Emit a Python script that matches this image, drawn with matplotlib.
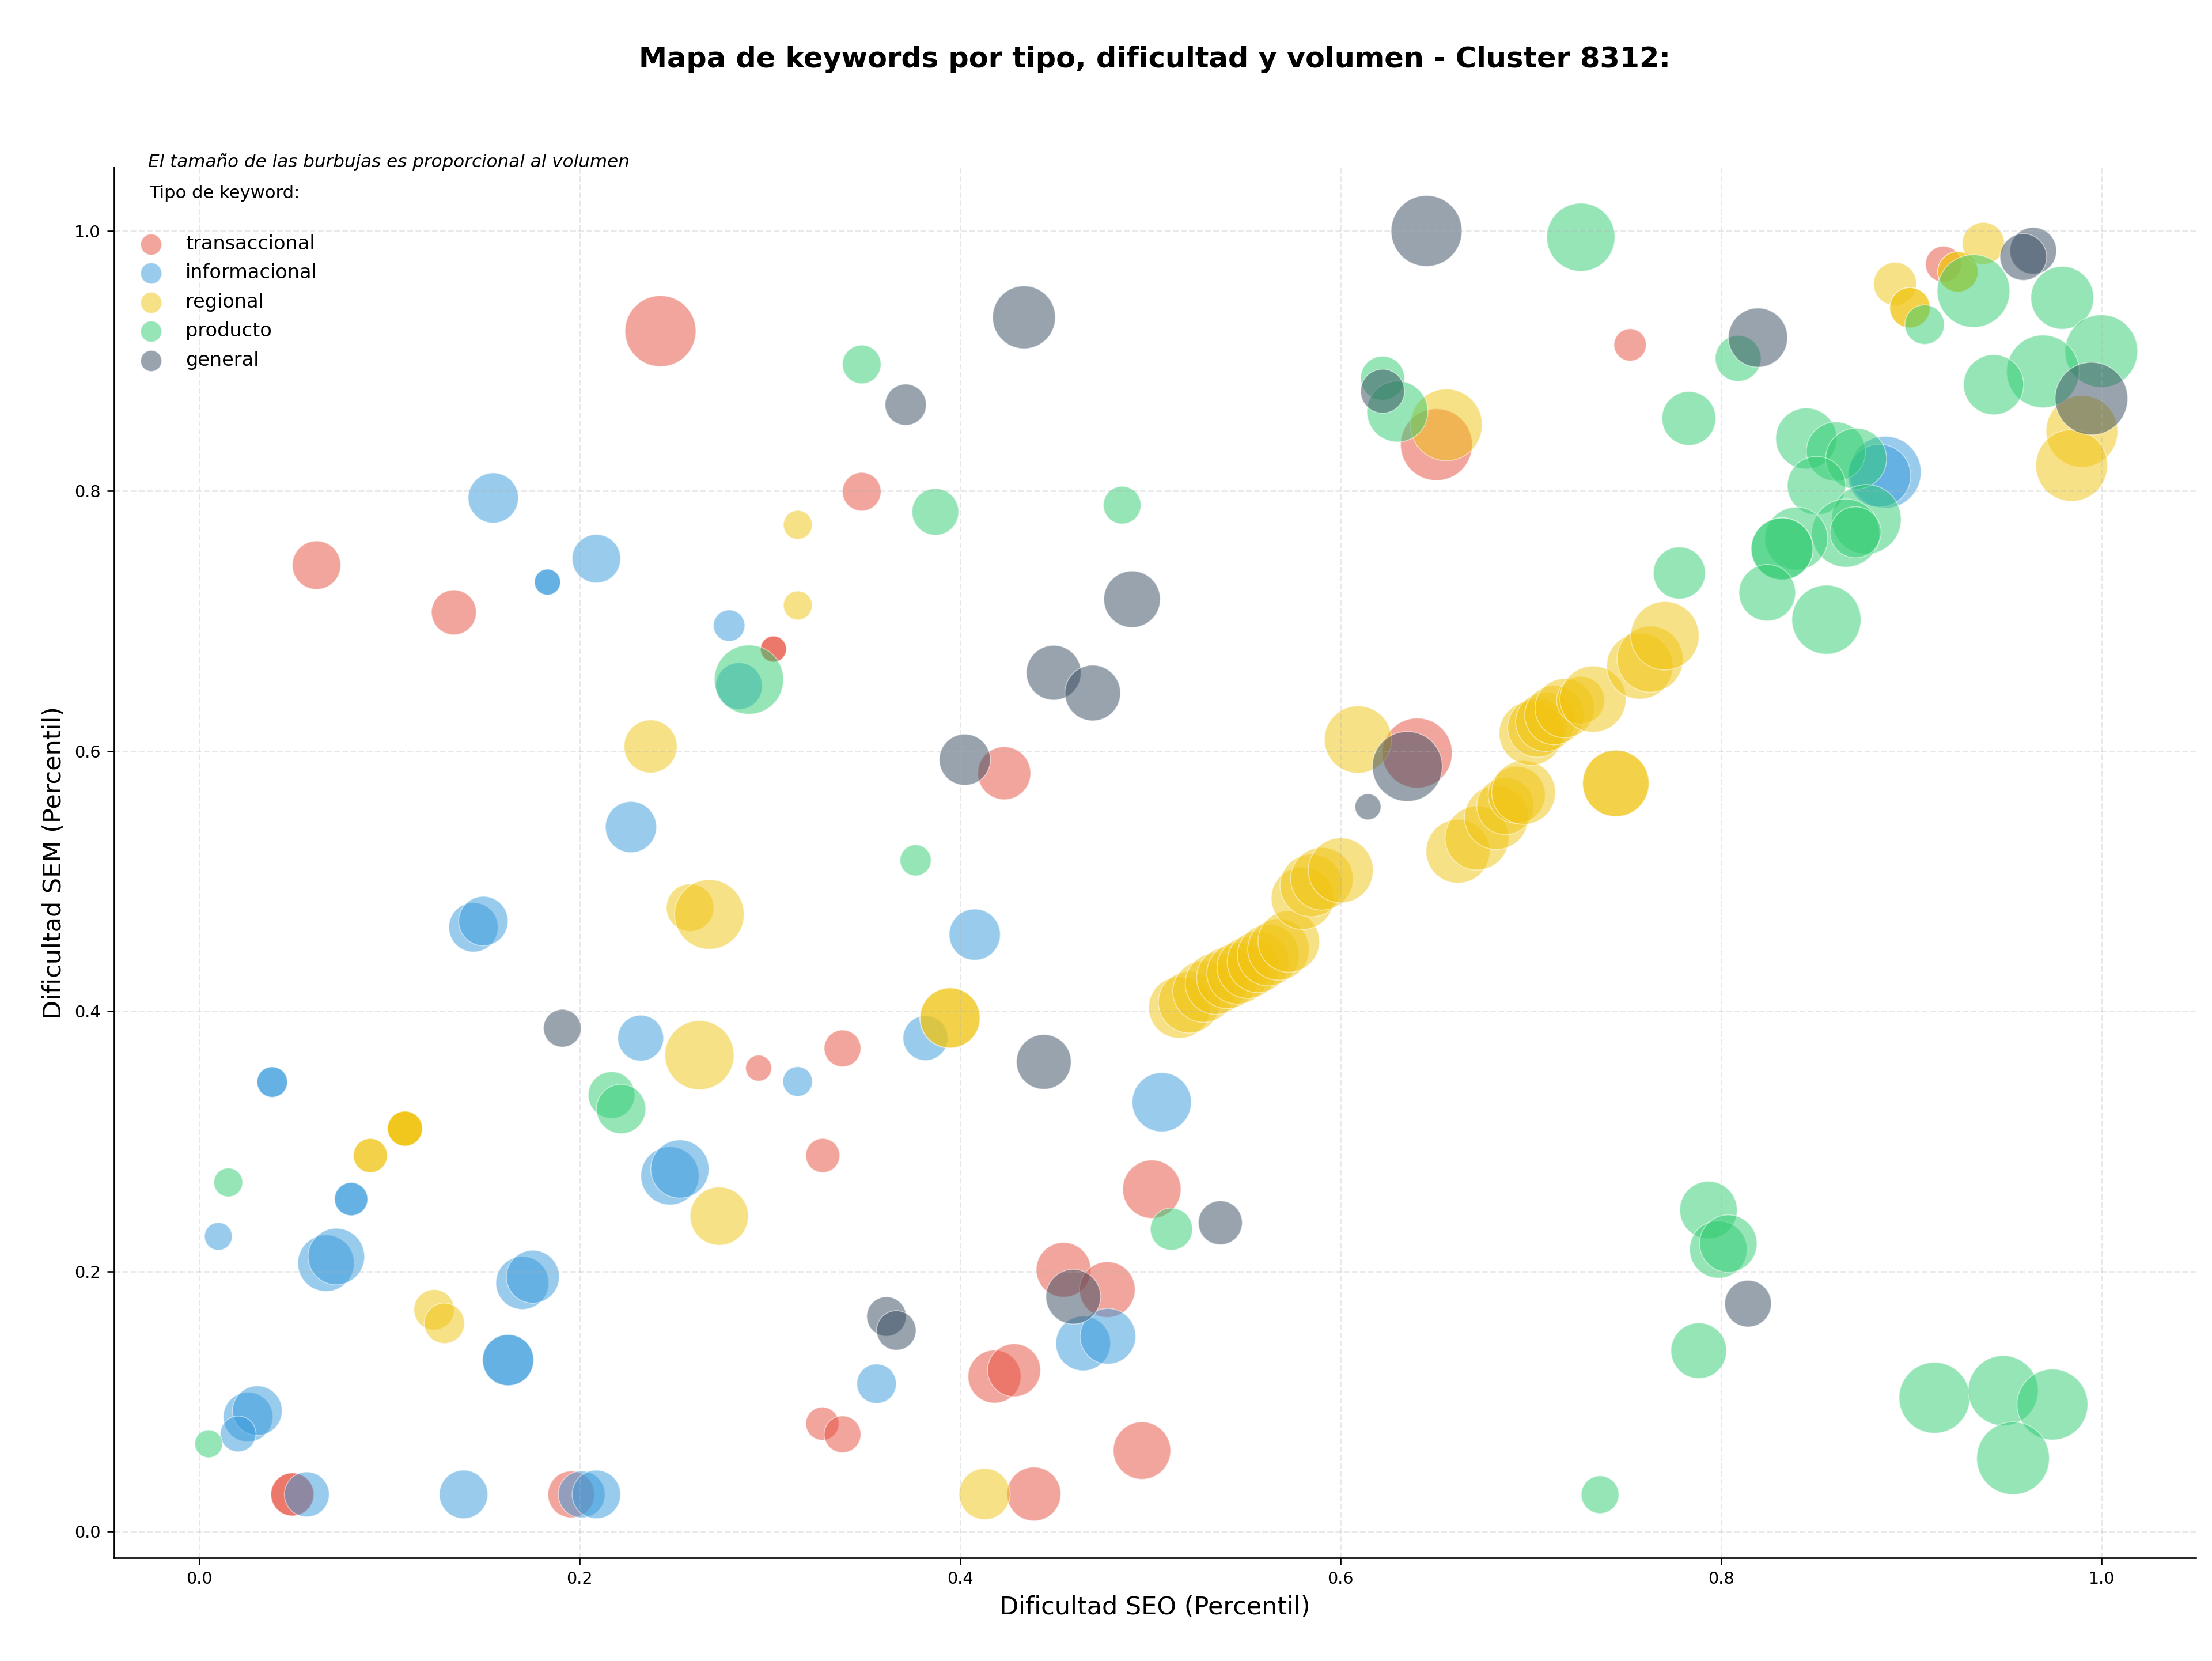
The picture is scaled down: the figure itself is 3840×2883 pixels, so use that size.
import matplotlib.pyplot as plt
import numpy as np

# Tipos de keyword y colores
tipos = ["transaccional", "informacional", "regional", "producto", "general"]
colores = ["#e74c3c", "#3498db", "#f1c40f", "#2ecc71", "#34495e"]

# transaccional: dificultad SEO, dificultad SEM, volumen
trans_seo = [0.0617, 0.1339, 0.2425, 0.3019, 0.3019, 0.2941, 0.3382, 0.3278, 0.3483, 0.4232,
             0.5008, 0.4544, 0.4774, 0.4181, 0.4284, 0.3276, 0.3382, 0.4956, 0.4388, 0.049,
             0.049, 0.1956, 0.6403, 0.6504, 0.7522, 0.9169]
trans_sem = [0.743, 0.7067, 0.923, 0.6785, 0.6785, 0.3562, 0.3714, 0.289, 0.7995, 0.583,
             0.2631, 0.2011, 0.1859, 0.119, 0.1239, 0.0828, 0.0746, 0.0621, 0.0287, 0.0284,
             0.0284, 0.0284, 0.5985, 0.8357, 0.9124, 0.9745]
trans_vol = [635, 545, 1362, 183, 183, 183, 366, 315, 403, 759,
             921, 811, 838, 759, 759, 298, 366, 893, 785, 502,
             502, 590, 1326, 1395, 282, 349]

# informacional
info_seo = [0.1546, 0.1831, 0.1831, 0.2088, 0.2786, 0.2838, 0.2270, 0.1442, 0.1494, 0.2321,
            0.3146, 0.0384, 0.0384, 0.0799, 0.0799, 0.0101, 0.0667, 0.0721, 0.2475, 0.2527,
            0.1699, 0.1754, 0.1624, 0.1624, 0.0257, 0.0306, 0.0205, 0.0566, 0.139, 0.2011,
            0.2088, 0.4077, 0.3818, 0.506, 0.4647, 0.4777, 0.3561, 0.8863, 0.8832]
info_sem = [0.7947, 0.730, 0.730, 0.748, 0.6965, 0.650, 0.5416, 0.4645, 0.4693, 0.3793,
            0.3459, 0.3455, 0.3455, 0.2555, 0.2555, 0.2268, 0.2062, 0.2113, 0.2734, 0.2786,
            0.1910, 0.1958, 0.1317, 0.1317, 0.0879, 0.0928, 0.0749, 0.0284, 0.0284, 0.0284,
            0.0284, 0.4589, 0.3793, 0.330, 0.1445, 0.150, 0.1135, 0.8145, 0.8118]
info_vol = [681, 183, 183, 635, 267, 590, 708, 660, 660, 567,
            238, 252, 252, 299, 299, 208, 865, 865, 918, 918,
            759, 759, 708, 708, 666, 666, 346, 545, 635, 590,
            635, 708, 545, 949, 811, 838, 422, 1395, 1068]

# regional
reg_seo = [0.3147, 0.3147, 0.2373, 0.2581, 0.2682, 0.263, 0.1082, 0.1082, 0.1082, 0.1082,
           0.090, 0.090, 0.2734, 0.1235, 0.1289, 0.3947, 0.3947, 0.4129,
           0.5153, 0.5204, 0.5280, 0.5345, 0.5405, 0.5459, 0.5513, 0.5566, 0.5620, 0.5674,
           0.5728, 0.5800, 0.5846, 0.5902, 0.6001, 0.6617, 0.6717, 0.6819, 0.6866, 0.6926,
           0.6962, 0.7001, 0.7034, 0.7076, 0.7124, 0.7178, 0.7262, 0.7327, 0.7573, 0.7627,
           0.7705, 0.6092, 0.6556, 0.7447, 0.7447, 0.8915, 0.8993, 0.8993, 0.9245, 0.9245,
           0.9379, 0.9897, 0.9843]
reg_sem = [0.774, 0.712, 0.6036, 0.4796, 0.4744, 0.3662, 0.3097, 0.3097, 0.3097, 0.3097,
           0.289, 0.289, 0.2424, 0.1704, 0.160, 0.3948, 0.3948, 0.0287,
           0.4028, 0.4069, 0.4151, 0.4212, 0.4256, 0.4291, 0.4335, 0.4379, 0.4431, 0.4475,
           0.4536, 0.4869, 0.4966, 0.5018, 0.5083, 0.5230, 0.5331, 0.5489, 0.5577, 0.5664,
           0.5682, 0.6137, 0.6181, 0.6225, 0.6277, 0.6330, 0.6391, 0.6400, 0.6654, 0.6707,
           0.6887, 0.6089, 0.8509, 0.5752, 0.5752, 0.9593, 0.941, 0.941, 0.9686, 0.9686,
           0.9904, 0.8459, 0.8197]
reg_vol = [225, 225, 759, 612, 1309, 1292, 332, 332, 332, 332,
           314, 314, 918, 441, 441, 978, 978, 708,
           1026, 1026, 1026, 1026, 1026, 1026, 1026, 1026, 1026, 1026,
           1026, 1060, 1060, 1060, 1143, 1103, 1103, 1103, 880, 880,
           1103, 1103, 951, 951, 951, 951, 621, 1183, 1183, 1183,
           1266, 1226, 1395, 1194, 1194, 502, 441, 441, 441, 441,
           481, 1395, 1395]

# producto
prod_seo = [0.289, 0.2168, 0.2218, 0.0153, 0.005, 0.3483, 0.387, 0.4852, 0.3766, 0.5111,
            0.6221, 0.6299, 0.7263, 0.809, 0.7831, 0.7781, 0.8448, 0.8604, 0.8710, 0.8502,
            0.8764, 0.8656, 0.8707, 0.8396, 0.8321, 0.8321, 0.8243, 0.8554, 0.907, 0.9327,
            0.9794, 0.9999, 0.9692, 0.9433, 0.7934, 0.7986, 0.8038, 0.7883, 0.7364, 0.9122,
            0.9483, 0.9742, 0.9535]
prod_sem = [0.655, 0.3355, 0.3248, 0.2683, 0.0673, 0.8974, 0.784, 0.7892, 0.516, 0.2324,
            0.8868, 0.8612, 0.9952, 0.902, 0.8559, 0.737, 0.8404, 0.8304, 0.8249, 0.8042,
            0.7783, 0.7677, 0.7683, 0.7635, 0.7556, 0.7556, 0.7218, 0.7011, 0.928, 0.9538,
            0.9486, 0.9076, 0.892, 0.8818, 0.2471, 0.2168, 0.2213, 0.1389, 0.0282, 0.1027,
            0.1082, 0.0975, 0.0562]
prod_vol = [1296, 590, 660, 225, 208, 403, 589, 384, 262, 481,
            523, 1008, 1259, 567, 785, 733, 1008, 949, 1008, 921,
            1309, 1259, 708, 1068, 1038, 1038, 865, 1292, 422, 1430,
            1068, 1430, 1430, 978, 893, 893, 893, 838, 384, 1360,
            1326, 1360, 1430]

# general
gen_seo = [0.1909, 0.6452, 0.4336, 0.3714, 0.4904, 0.4492, 0.4697, 0.4025, 0.444, 0.5368,
           0.4595, 0.3613, 0.3665, 0.6221, 0.6351, 0.6144, 0.8194, 0.9641, 0.9589, 0.9947,
           0.8142]
gen_sem = [0.3869, 1.0, 0.9336, 0.8664, 0.7168, 0.6603, 0.6447, 0.5934, 0.361, 0.2373,
           0.1804, 0.1652, 0.1545, 0.8768, 0.5882, 0.5572, 0.918, 0.9848, 0.980, 0.8711,
           0.1751]
gen_vol = [385, 1360, 1068, 461, 865, 811, 838, 708, 811, 523,
           811, 422, 422, 523, 1326, 183, 949, 589, 589, 1430,
           589]

datos = {
    "transaccional": (trans_seo, trans_sem, trans_vol),
    "informacional": (info_seo, info_sem, info_vol),
    "regional": (reg_seo, reg_sem, reg_vol),
    "producto": (prod_seo, prod_sem, prod_vol),
    "general": (gen_seo, gen_sem, gen_vol),
}

#Figure
fig = plt.figure(figsize=(16, 12.0125), dpi=240)
ax = fig.add_axes([0.0515, 0.0621, 0.9412, 0.8372])

#Bubbles
for tipo, color in zip(tipos, colores):
    seo, sem, vol = datos[tipo]
    ax.scatter(seo, sem, s=np.array(vol), c=color, alpha=0.5,
               edgecolors="white", linewidths=0.5, label=tipo)

#Axes
ax.set_xlim(-0.0448, 1.0496)
ax.set_ylim(-0.0204, 1.049)
ax.set_xticks([0.0, 0.2, 0.4, 0.6, 0.8, 1.0])
ax.set_yticks([0.0, 0.2, 0.4, 0.6, 0.8, 1.0])
ax.tick_params(labelsize=8.6)
ax.grid(True, linestyle="--", alpha=0.3)
ax.spines["top"].set_visible(False)
ax.spines["right"].set_visible(False)

ax.set_xlabel("Dificultad SEO (Percentil)", fontsize=12.9)
ax.set_ylabel("Dificultad SEM (Percentil)", fontsize=12.9)
ax.set_title("Mapa de keywords por tipo, dificultad y volumen - Cluster 8312:",
             fontsize=14.8, fontweight="bold", pad=52)

#Note and legend
ax.text(0.0165, 1.0, "El tamaño de las burbujas es proporcional al volumen",
        transform=ax.transAxes, fontsize=9.3, style="italic", va="baseline", ha="left")
leg = ax.legend(title="Tipo de keyword:\n", loc="upper left", frameon=False,
                fontsize=10.1, title_fontsize=9.2, labelspacing=0.52)
leg.get_title().set_linespacing(1.46)
for h in leg.legend_handles:
    h.set_sizes([120])

#Save figure
fig.savefig("out.png", dpi=240)
